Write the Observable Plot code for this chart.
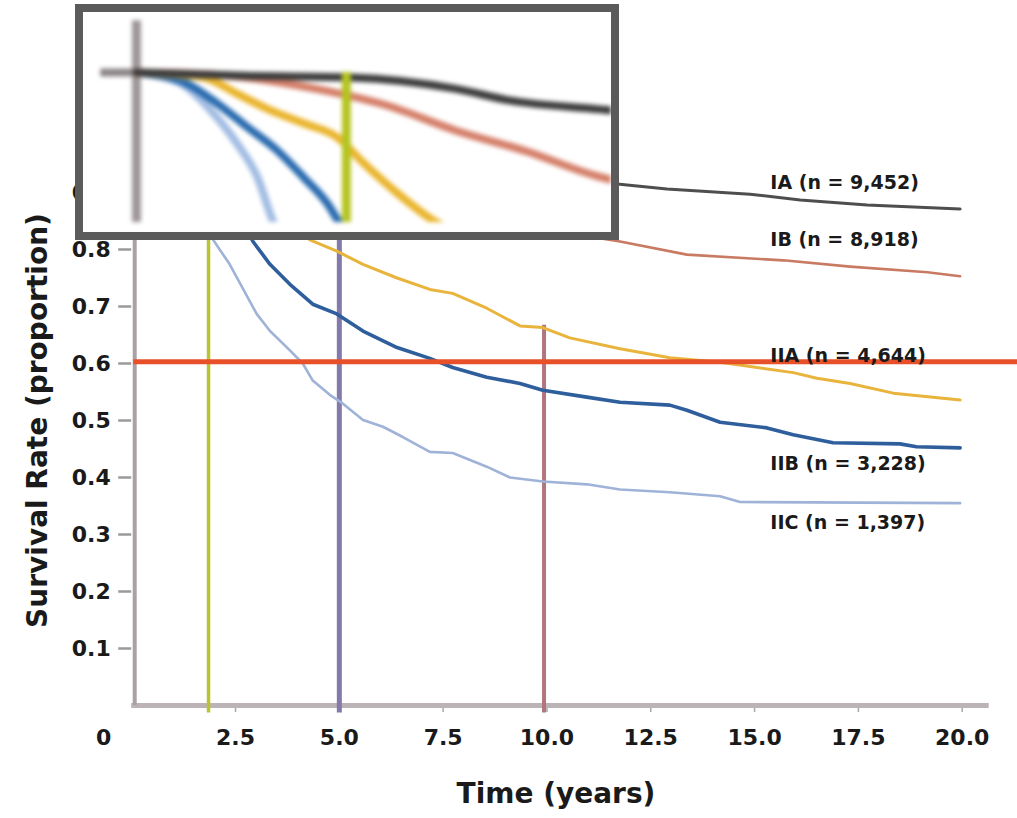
<!DOCTYPE html>
<html>
<head>
<meta charset="utf-8">
<script src="https://cdn.jsdelivr.net/npm/d3@7"></script>
<script src="https://cdn.jsdelivr.net/npm/@observablehq/plot@0.6"></script>
<style>
  html, body { margin: 0; padding: 0; background: #fff; }
  #wrap { position: relative; width: 1017px; height: 818px; overflow: hidden; background: #fff; }
  #main { position: absolute; left: 0; top: 0; }
  #inset { position: absolute; left: 75px; top: 4px; width: 528px; height: 220px;
           border: 8px solid #5b5b5b; background: #fff; overflow: hidden; }
  #inset svg { filter: blur(2px); }
</style>
</head>
<body>
<div id="wrap"><div id="main"></div><div id="inset"></div></div>
<script>
// ---- data ----
const stages = ["IA", "IB", "IIA", "IIB", "IIC"];
const stageLabels = ["IA (n = 9,452)", "IB (n = 8,918)", "IIA (n = 4,644)", "IIB (n = 3,228)", "IIC (n = 1,397)"];
const labelTime = [15.38, 15.38, 15.38, 15.38, 15.38];
const labelSurvival = [0.9175, 0.816, 0.614, 0.4246, 0.321];

const timeIA = [0, 1.56, 3.07, 4.57, 5.33, 6.63, 11.69, 12.89, 14.89, 16.1, 17.71, 19.95];
const survIA = [1.0, 0.996, 0.994, 0.980, 0.966, 0.955, 0.915, 0.906, 0.897, 0.887, 0.878, 0.871];

const timeIB = [0, 1.03, 2.57, 3.57, 4.57, 5.57, 6.57, 11.76, 13.37, 15.69, 17.3, 19.16, 19.95];
const survIB = [1.0, 0.998, 0.980, 0.960, 0.929, 0.904, 0.874, 0.814, 0.791, 0.781, 0.770, 0.760, 0.753];

const timeIIA = [0, 0.96, 1.44, 1.91, 2.39, 2.87, 3.24, 3.74, 4.29, 4.94, 5.57, 6.39, 7.18, 7.73, 8.55, 9.35, 9.90, 10.55, 11.76, 12.96, 14.17, 15.93, 16.5, 17.3, 18.34, 19.95];
const survIIA = [1.0, 0.994, 0.974, 0.954, 0.938, 0.921, 0.890, 0.852, 0.817, 0.797, 0.774, 0.750, 0.730, 0.723, 0.697, 0.666, 0.663, 0.645, 0.626, 0.610, 0.602, 0.584, 0.574, 0.565, 0.548, 0.536];

const timeIIB = [0, 0.63, 1.16, 1.59, 2.01, 2.39, 2.73, 2.92, 3.33, 3.81, 4.36, 4.94, 5.57, 6.39, 7.18, 7.73, 8.55, 9.35, 9.90, 10.96, 11.76, 12.96, 13.37, 14.17, 15.30, 15.93, 16.89, 18.5, 18.9, 19.95];
const survIIB = [1.0, 0.990, 0.962, 0.933, 0.905, 0.872, 0.840, 0.814, 0.774, 0.739, 0.704, 0.687, 0.657, 0.628, 0.609, 0.593, 0.576, 0.565, 0.553, 0.541, 0.532, 0.527, 0.518, 0.497, 0.487, 0.475, 0.461, 0.459, 0.454, 0.452];

const timeIIC = [0, 0.63, 1.06, 1.44, 1.73, 1.96, 2.36, 3.01, 3.33, 3.81, 4.12, 4.36, 4.77, 5.08, 5.57, 6.05, 6.53, 7.18, 7.73, 8.55, 9.11, 9.90, 10.96, 11.76, 12.96, 14.17, 14.65, 19.95];
const survIIC = [1.0, 0.987, 0.954, 0.913, 0.872, 0.817, 0.774, 0.687, 0.657, 0.623, 0.600, 0.570, 0.545, 0.530, 0.501, 0.489, 0.471, 0.445, 0.443, 0.419, 0.400, 0.393, 0.388, 0.379, 0.374, 0.367, 0.357, 0.355];

const xTicks = [2.5, 5, 7.5, 10, 12.5, 15, 17.5, 20];
const yTicks = [0.1, 0.2, 0.3, 0.4, 0.5, 0.6, 0.7, 0.8, 0.9];
const landmarkYears = [1.85, 5, 9.93];
const landmarkTop = [0.85, 0.85, 0.667];
const referenceSurvival = 0.603;
const insetMarkerYear = 3.0;

// ---- styles ----
const mainColors = {IA: "#4e4e4e", IB: "#c97a62", IIA: "#e8b43c", IIB: "#2f5e9c", IIC: "#9fb2d8"};
const mainWidths = {IA: 3, IB: 2.6, IIA: 3, IIB: 3.6, IIC: 2.6};
const insetColors = {IA: "#3e3e3e", IB: "#d5806a", IIA: "#eab52e", IIB: "#2b6cb0", IIC: "#a3bde3"};
const landmarkColors = ["#b9c42e", "#8479ab", "#b0757f"];
const landmarkWidths = [3.5, 5, 4];

// ---- tables ----
const series = {
  IA: timeIA.map((t, i) => ({stage: "IA", t, s: survIA[i]})),
  IB: timeIB.map((t, i) => ({stage: "IB", t, s: survIB[i]})),
  IIA: timeIIA.map((t, i) => ({stage: "IIA", t, s: survIIA[i]})),
  IIB: timeIIB.map((t, i) => ({stage: "IIB", t, s: survIIB[i]})),
  IIC: timeIIC.map((t, i) => ({stage: "IIC", t, s: survIIC[i]}))
};
const labels = stages.map((k, i) => ({text: stageLabels[i], t: labelTime[i], s: labelSurvival[i]}));
const landmarks = landmarkYears.map((t, i) => ({t, top: landmarkTop[i], color: landmarkColors[i], w: landmarkWidths[i]}));

const font = "DejaVu Sans, Liberation Sans, sans-serif";

const main = Plot.plot({
  width: 1017, height: 818,
  marginLeft: 131.2, marginRight: 55.3, marginTop: 135, marginBottom: 113,
  x: {domain: [0, 20]},
  y: {domain: [0, 1]},
  style: {fontFamily: font, background: "white", overflow: "visible"},
  marks: [
    Plot.axisY({ticks: yTicks, tickSize: 13, tickPadding: 8, fontSize: 22, fontWeight: "bold",
      label: null, stroke: "#9a9a9a", strokeWidth: 2.5, fill: "#1a1a1a", tickFormat: d => d.toFixed(1)}),
    Plot.axisX({ticks: xTicks, tickSize: 7, tickPadding: 17, fontSize: 22, fontWeight: "bold",
      label: null, stroke: "#a8a8a8", strokeWidth: 1.5, fill: "#1a1a1a", tickFormat: d => d.toFixed(1)}),
    Plot.text([{t: 0, s: 0}], {x: "t", y: "s", text: () => "0", dx: -28, dy: 32, fontSize: 22, fontWeight: "bold", fill: "#1a1a1a"}),
    Plot.ruleY([0], {x1: 0, x2: 20.65, stroke: "#bcb3b7", strokeWidth: 5}),
    Plot.ruleX([0], {y1: 0, y2: 1, stroke: "#a9a1a5", strokeWidth: 4, dx: 3}),
    Plot.ruleX(landmarks, {x: "t", y1: -0.013, y2: "top", stroke: "color", strokeWidth: "w"}),
    ...["IIC", "IIB", "IIA", "IB", "IA"].map(k =>
      Plot.line(series[k], {x: "t", y: "s", stroke: mainColors[k], strokeWidth: mainWidths[k], strokeLinejoin: "round"})),
    Plot.ruleY([referenceSurvival], {x1: 0.05, x2: 21.4, stroke: "#e8502a", strokeWidth: 5}),
    Plot.text(labels, {x: "t", y: "s", text: "text", textAnchor: "start", fontSize: 19, fontWeight: "bold", fill: "#1a1a1a"}),
    Plot.text(["Survival Rate (proportion)"], {frameAnchor: "left", dx: -94, rotate: -90, text: d => d,
      fontSize: 28, fontWeight: "bold", fill: "#1a1a1a", textAnchor: "middle", lineAnchor: "middle"}),
    Plot.text(["Time (years)"], {frameAnchor: "bottom", dx: 9, dy: 89, text: d => d,
      fontSize: 28, fontWeight: "bold", fill: "#1a1a1a", textAnchor: "middle", lineAnchor: "middle"})
  ]
});
document.getElementById("main").appendChild(main);

const inset = Plot.plot({
  width: 528, height: 220,
  marginLeft: 0, marginRight: 0, marginTop: 0, marginBottom: 10,
  x: {domain: [-0.757, 6.79], axis: null},
  y: {domain: [0.817, 1.0732], axis: null},
  style: {background: "white"},
  marks: [
    Plot.ruleX([0], {y1: 0.817, y2: 1.063, stroke: "#9d9597", strokeWidth: 9}),
    Plot.ruleY([1], {x1: -0.51, x2: 0.1, stroke: "#8b8587", strokeWidth: 8}),
    ...["IIC", "IIB", "IIA", "IB", "IA"].map(k =>
      Plot.line(series[k], {x: "t", y: "s", stroke: insetColors[k], strokeWidth: 8, clip: true,
        curve: "monotone-x", strokeLinejoin: "round"})),
    Plot.ruleX([insetMarkerYear], {y1: 0.817, y2: 1.0, stroke: "#b5c420", strokeWidth: 9})
  ]
});
document.getElementById("inset").appendChild(inset);
</script>
</body>
</html>
